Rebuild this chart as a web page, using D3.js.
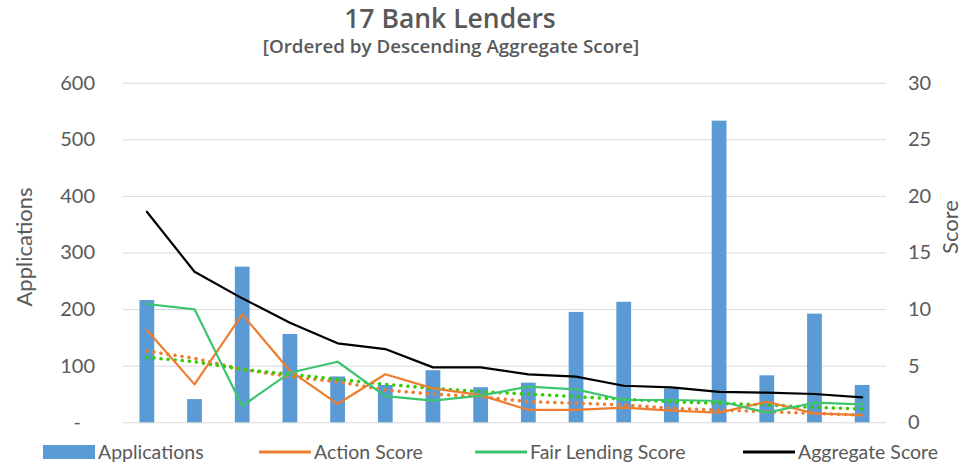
<html>
<head>
  <title>17 Bank Lenders</title>
  <meta charset="utf-8" />
  <script src="https://cdnjs.cloudflare.com/ajax/libs/d3/7.8.5/d3.min.js"></script>
  <style>
    body { margin: 0; background: #fff; }
    text { font-family: Lato, "Noto Sans", sans-serif; fill: #595959; }
    path.domain { stroke: none; }
    .tick > line { stroke: #d9d9d9; }
  </style>
</head>
<body>
  <svg></svg>
  <script>
    // lenders in order of descending aggregate score
    var lenders        = d3.range(1, 17).map(d => "Lender " + d)
    var applications   = [216, 41, 275, 156, 81, 66, 92, 62, 70, 195, 213, 60, 533, 83, 192, 66]
    var actionScore    = [8.15, 3.35, 9.54, 4.56, 1.62, 4.24, 3.0, 2.4, 1.09, 1.09, 1.29, 1.03, 0.85, 1.82, 0.79, 0.64]
    var fairScore      = [10.45, 9.98, 1.44, 4.38, 5.35, 2.32, 1.91, 2.36, 3.15, 2.91, 1.97, 1.97, 1.88, 0.85, 1.73, 1.59]
    var aggregateScore = [18.6, 13.3, 10.95, 8.8, 6.98, 6.47, 4.85, 4.85, 4.24, 4.03, 3.23, 3.09, 2.68, 2.62, 2.5, 2.21]
    // dotted trend lines as shown in the chart
    var actionTrend    = [6.3, 5.65, 4.68, 4.03, 3.59, 2.85, 2.5, 2.26, 1.82, 1.68, 1.53, 1.24, 1.09, 0.94, 0.79, 0.64]
    var fairTrend      = [5.74, 5.35, 4.68, 4.24, 3.8, 3.36, 3.0, 2.7, 2.5, 2.26, 2.03, 1.82, 1.68, 1.53, 1.32, 1.17]
    var appTicks       = [0, 100, 200, 300, 400, 500, 600]
    var scoreTicks     = [0, 5, 10, 15, 20, 25, 30]

    var svg = d3.select("svg").attr("width", 967).attr("height", 466)

    var xScale = d3.scaleBand().domain(lenders).range([123, 886])
    var yApp   = d3.scaleLinear().domain([0, 600]).range([422.3, 82.7])
    var yScore = d3.scaleLinear().domain([0, 30]).range([422.3, 82.7])

    var leftAxis = d3.axisLeft(yApp).tickValues(appTicks).tickSize(-763).tickPadding(28)
                     .tickFormat(d => d === 0 ? "-" : d)
    svg.append("g").attr("transform", "translate(123,0)").call(leftAxis)
       .selectAll("text").style("font-size", "20px").style("fill", "#595959").style("font-family", "Lato")
    svg.selectAll(".tick").filter(d => d === 0).select("text").attr("dx", "-14")

    var rightAxis = d3.axisRight(yScore).tickValues(scoreTicks).tickSize(0).tickPadding(22)
    svg.append("g").attr("transform", "translate(886,0)").call(rightAxis)
       .selectAll("text").style("font-size", "20px").style("fill", "#595959").style("font-family", "Lato")

    var barW = xScale.bandwidth() * 0.31
    svg.append("g").selectAll("rect")
       .data(applications)
       .enter()
       .append("rect")
         .attr("x", (d, i) => xScale(lenders[i]) + xScale.bandwidth() / 2 - barW / 2)
         .attr("y", d => yApp(d))
         .attr("width", barW)
         .attr("height", d => yApp(0) - yApp(d))
         .style("fill", "#5b9bd5")

    var line = d3.line()
                 .x((d, i) => xScale(lenders[i]) + xScale.bandwidth() / 2)
                 .y(d => yScore(d))

    var series = [
      { data: actionTrend,    color: "#ed7d31", width: 3.5, dash: "0.1 7" },
      { data: fairTrend,      color: "#33cc00", width: 3.5, dash: "0.1 7" },
      { data: actionScore,    color: "#ed7d31", width: 2.2, dash: null },
      { data: fairScore,      color: "#3cc46e", width: 2.2, dash: null },
      { data: aggregateScore, color: "#000000", width: 2.2, dash: null }
    ]

    svg.append("g").selectAll("path")
       .data(series)
       .enter()
       .append("path")
         .attr("d", d => line(d.data))
         .style("fill", "none")
         .style("stroke", d => d.color)
         .style("stroke-width", d => d.width)
         .style("stroke-linecap", "round")
         .style("stroke-linejoin", "round")
         .style("stroke-dasharray", d => d.dash)

    // titles
    svg.append("text").attr("x", 450).attr("y", 28).attr("text-anchor", "middle")
       .style("font-family", "'Open Sans', sans-serif")
       .style("font-size", "26.5px").style("font-weight", "600").text("17 Bank Lenders")
    svg.append("text").attr("x", 451).attr("y", 53).attr("text-anchor", "middle")
       .style("font-family", "'Open Sans', sans-serif")
       .style("font-size", "18.8px").style("font-weight", "600").text("[Ordered by Descending Aggregate Score]")

    svg.append("text").attr("transform", "translate(32,247) rotate(-90)").attr("text-anchor", "middle")
       .style("font-size", "22px").text("Applications")
    svg.append("text").attr("transform", "translate(958,227) rotate(-90)").attr("text-anchor", "middle")
       .style("font-size", "22px").text("Score")

    // legend
    var legend = [
      { name: "Applications",       color: "#5b9bd5", x: 43,  type: "bar" },
      { name: "Action Score",       color: "#ed7d31", x: 259, type: "line" },
      { name: "Fair Lending Score", color: "#3cc46e", x: 475, type: "line" },
      { name: "Aggregate Score",    color: "#000000", x: 743, type: "line" }
    ]
    var lg = svg.append("g").selectAll("g").data(legend).enter().append("g")
                .attr("transform", d => `translate(${d.x},452)`)
    lg.filter(d => d.type === "bar").append("rect")
      .attr("x", 0).attr("y", -7).attr("width", 52).attr("height", 14).style("fill", d => d.color)
    lg.filter(d => d.type === "line").append("line")
      .attr("x1", 0).attr("x2", 52).attr("y1", 0).attr("y2", 0)
      .style("stroke", d => d.color).style("stroke-width", 3)
    lg.append("text").attr("x", 55).attr("y", 7).style("font-size", "19.5px").text(d => d.name)
  </script>
</body>
</html>
